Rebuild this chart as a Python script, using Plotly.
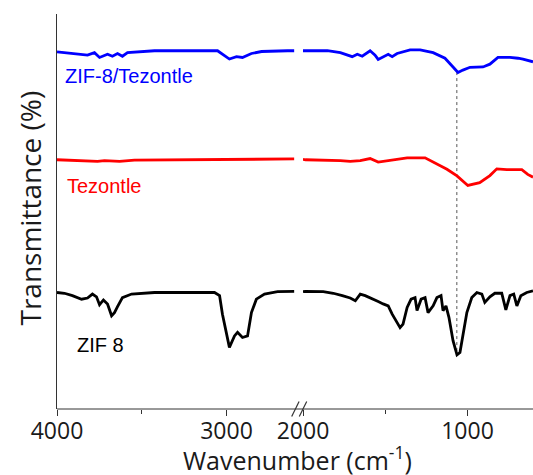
import plotly.graph_objects as go

# ---- FTIR spectra (wavenumber in cm-1, transmittance offset per sample) ----
# High-wavenumber window (4000-2600 cm-1)
zt_wn_hi = [4000, 3897, 3820, 3779, 3749, 3702, 3673, 3643, 3614, 3584, 3425, 3053,
            3012, 2983, 2941, 2906, 2853, 2793, 2640, 2600]
zt_t_hi = [90.4, 90.0, 89.6, 90.2, 89.0, 89.8, 89.3, 90.0, 89.3, 90.2, 90.7, 90.7,
           89.6, 88.6, 89.2, 89.0, 90.0, 90.5, 90.7, 90.7]

tz_wn_hi = [4000, 3867, 3761, 3720, 3631, 3543, 3159, 2923, 2600]
tz_t_hi = [63.1, 62.9, 62.7, 62.9, 62.7, 63.0, 63.1, 63.2, 63.3]

z8_wn_hi = [4000, 3956, 3909, 3855, 3820, 3791, 3767, 3749, 3726, 3702, 3678, 3661,
            3643, 3614, 3560, 3425, 3071, 3041, 3024, 3000, 2983, 2953, 2935, 2906,
            2876, 2853, 2824, 2776, 2699, 2600]
z8_t_hi = [29.5, 29.3, 28.7, 27.8, 28.1, 29.1, 28.4, 26.4, 27.6, 26.6, 23.6, 24.4,
           25.9, 28.2, 29.1, 29.5, 29.5, 28.7, 24.0, 18.9, 15.6, 18.5, 19.4, 18.1,
           18.5, 24.4, 27.8, 29.1, 29.7, 29.8]

# Fingerprint window (2000-600 cm-1)
zt_wn_lo = [2000, 1852, 1773, 1725, 1701, 1670, 1640, 1592, 1562, 1543, 1513, 1482,
            1458, 1428, 1349, 1288, 1209, 1137, 1088, 1058, 1028, 985, 906, 864,
            815, 742, 693, 663, 602]
zt_t_lo = [90.7, 90.7, 90.2, 89.6, 89.2, 89.8, 89.3, 90.7, 89.6, 88.5, 89.2, 89.8,
           89.2, 90.0, 90.9, 90.9, 90.2, 88.8, 86.6, 85.2, 85.8, 86.5, 86.6, 87.3,
           89.0, 89.0, 88.8, 88.6, 87.9]

tz_wn_lo = [2000, 1985, 1773, 1713, 1652, 1592, 1543, 1488, 1367, 1258, 1186, 1125,
            1064, 998, 926, 864, 822, 761, 670, 634, 602]
tz_t_lo = [63.2, 63.1, 62.9, 62.7, 62.9, 63.4, 62.5, 62.9, 63.6, 63.6, 62.1, 60.7,
           59.0, 56.6, 57.3, 59.1, 60.8, 60.6, 60.6, 59.4, 58.7]

z8_wn_lo = [2000, 1985, 1877, 1816, 1761, 1713, 1682, 1652, 1622, 1580, 1543, 1513,
            1482, 1458, 1434, 1410, 1392, 1367, 1343, 1319, 1307, 1282, 1258, 1240,
            1209, 1186, 1161, 1149, 1131, 1113, 1088, 1064, 1046, 1028, 1004, 974,
            943, 913, 895, 864, 834, 792, 767, 742, 719, 700, 676, 640, 602]
z8_t_lo = [29.7, 29.8, 29.7, 29.3, 28.7, 28.1, 27.4, 29.1, 28.7, 27.8, 27.2, 26.6,
           26.1, 24.0, 22.3, 20.6, 21.5, 25.7, 27.8, 28.2, 24.9, 27.8, 28.2, 24.4,
           26.1, 28.2, 28.7, 24.9, 26.1, 23.2, 17.3, 13.7, 14.3, 19.0, 24.4, 28.2,
           29.5, 29.1, 27.0, 28.4, 29.3, 29.3, 25.1, 28.7, 29.1, 26.1, 28.7, 29.5, 29.9]

# Reference band shared by ZIF-8 and the composite
band_wn = 1065
band_t = [85.3, 14.2]

sample_names = ["ZIF-8/Tezontle", "Tezontle", "ZIF 8"]
sample_colors = ["#0000ff", "#ff0000", "#000000"]

# ---- layout geometry ----
W, H = 533, 475
ML, MR, MT, MB = 57, 0, 14, 66
PW, PH = W - ML - MR, H - MT - MB


def px_x(px):
    return (px - ML) / PW


def px_y(py):
    return (H - MB - py) / PH


AXIS_FONT = "Open Sans, Lato, sans-serif"
LABEL_FONT = "Liberation Sans, Arial, sans-serif"
AX_COLOR = "#333333"

fig = go.Figure()

fig.add_trace(go.Scatter(x=[band_wn, band_wn], y=band_t, xaxis="x2", yaxis="y",
                         mode="lines", line=dict(color="#555555", width=1, dash="dot"),
                         showlegend=False, hoverinfo="skip"))

series = [
    (zt_wn_hi, zt_t_hi, zt_wn_lo, zt_t_lo),
    (tz_wn_hi, tz_t_hi, tz_wn_lo, tz_t_lo),
    (z8_wn_hi, z8_t_hi, z8_wn_lo, z8_t_lo),
]
for name, color, (xh, yh, xl, yl) in zip(sample_names, sample_colors, series):
    fig.add_trace(go.Scatter(x=xh, y=yh, xaxis="x", yaxis="y", mode="lines",
                             line=dict(color=color, width=2.8), name=name,
                             showlegend=False))
    fig.add_trace(go.Scatter(x=xl, y=yl, xaxis="x2", yaxis="y", mode="lines",
                             line=dict(color=color, width=2.8), name=name,
                             showlegend=False))

tick_font = dict(family=AXIS_FONT, size=23, color="#1a1a1a")
common_x = dict(showgrid=False, zeroline=False, showline=False, ticks="outside",
                ticklen=6, tickwidth=1, tickcolor=AX_COLOR, tick0=0, dtick=1000,
                tickfont=tick_font, anchor="y", ticklabelstandoff=-5,
                minor=dict(ticks="outside", ticklen=4, tickwidth=1,
                           tickcolor=AX_COLOR, dtick=500, tick0=0))

fig.update_layout(
    width=W, height=H,
    margin=dict(l=ML, r=MR, t=MT, b=MB),
    paper_bgcolor="white", plot_bgcolor="white",
    xaxis=dict(domain=[0, px_x(294.5)], range=[4000, 2599], **common_x),
    xaxis2=dict(domain=[px_x(303), 1], range=[2000, 602], **common_x),
    xaxis3=dict(overlaying="x", side="top", domain=[0, 1], range=[0, PW / 70.1],
                showline=True, linecolor=AX_COLOR, linewidth=1, ticks="inside",
                ticklen=6, tickcolor=AX_COLOR, tick0=0, dtick=1,
                showticklabels=False, showgrid=False, zeroline=False, anchor="y"),
    yaxis=dict(range=[0, 100], showline=True, linecolor=AX_COLOR, linewidth=1,
               showticklabels=False, ticks="", showgrid=False, zeroline=False),
)

# continuous bottom axis line with the break marks
shapes = [dict(type="line", xref="paper", yref="paper", x0=0, x1=1, y0=0, y1=0,
               line=dict(color=AX_COLOR, width=1))]
for x0 in (291.7, 299.3):
    shapes.append(dict(type="line", xref="paper", yref="paper",
                       x0=px_x(x0), y0=px_y(416.5), x1=px_x(x0 + 7.4), y1=px_y(401.5),
                       line=dict(color=AX_COLOR, width=1.2)))
fig.update_layout(shapes=shapes)

annotations = [
    dict(text="Transmittance (%)", x=px_x(29.5), y=px_y(208), xref="paper", yref="paper",
         textangle=-90, showarrow=False, xanchor="center", yanchor="middle",
         font=dict(family=AXIS_FONT, size=28, color="#1a1a1a")),
    dict(text="Wavenumber (cm<sup>-1</sup>)", x=px_x(297.6), y=px_y(458), xref="paper",
         yref="paper", showarrow=False, xanchor="center", yanchor="middle",
         font=dict(family=AXIS_FONT, size=25, color="#1a1a1a")),
]
for name, color, (lx, ly) in zip(sample_names, sample_colors,
                                 [(63, 76.5), (64.6, 185.5), (74.8, 344.5)]):
    annotations.append(dict(text=name, x=px_x(lx), y=px_y(ly), xref="paper", yref="paper",
                            showarrow=False, xanchor="left", yanchor="middle",
                            font=dict(family=LABEL_FONT, size=20, color=color)))
fig.update_layout(annotations=annotations)

fig.write_html("out.html")
